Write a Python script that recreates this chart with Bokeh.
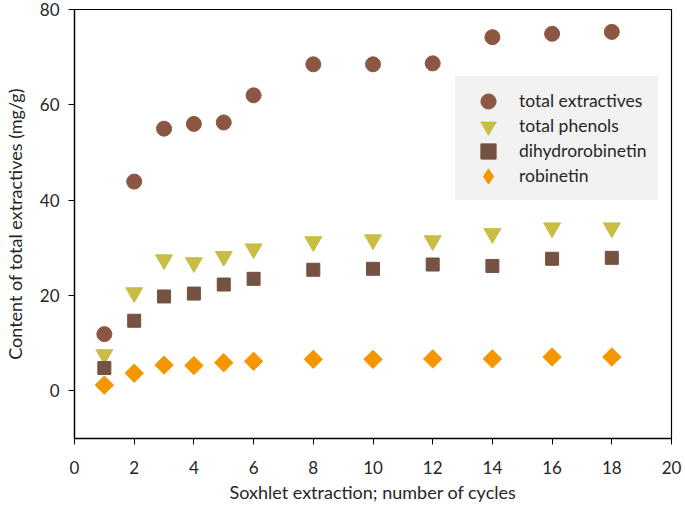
from bokeh.plotting import figure
from bokeh.models import Range1d, FixedTicker, Legend, LegendItem
from bokeh.embed import file_html
from bokeh.resources import INLINE
import math

cycles = [1, 2, 3, 4, 5, 6, 8, 10, 12, 14, 16, 18]
total_extractives = [11.9, 43.9, 55.0, 56.0, 56.3, 62.0, 68.5, 68.5, 68.7, 74.2, 74.9, 75.3]
total_phenols = [7.6, 20.6, 27.5, 26.9, 28.2, 29.8, 31.3, 31.7, 31.5, 33.0, 34.2, 34.2]
dihydrorobinetin = [4.8, 14.7, 19.8, 20.4, 22.3, 23.5, 25.4, 25.6, 26.5, 26.2, 27.7, 27.9]
robinetin = [1.2, 3.7, 5.4, 5.3, 5.9, 6.2, 6.6, 6.6, 6.7, 6.7, 7.1, 7.1]
series_names = ["total extractives", "total phenols", "dihydrorobinetin", "robinetin"]

x_ticks = [0, 2, 4, 6, 8, 10, 12, 14, 16, 18, 20]
y_ticks = [0, 20, 40, 60, 80]

FONT = "Lato"
TXT = "#262626"
NAN = float("nan")

p = figure(width=685, height=505, output_backend="svg", toolbar_location=None,
           x_range=Range1d(0, 20), y_range=Range1d(-10, 80),
           min_border_left=74, min_border_right=14, min_border_top=9, min_border_bottom=67)

p.xgrid.grid_line_color = None
p.ygrid.grid_line_color = None
p.outline_line_color = "black"
p.outline_line_width = 1.2
p.background_fill_color = "white"
p.border_fill_color = "white"

p.xaxis.ticker = FixedTicker(ticks=x_ticks)
p.yaxis.ticker = FixedTicker(ticks=y_ticks)
for ax in (p.xaxis[0], p.yaxis[0]):
    ax.axis_line_color = "black"
    ax.axis_line_width = 1.3
    ax.major_tick_line_color = "black"
    ax.major_tick_in = 0
    ax.major_tick_out = 6
    ax.minor_tick_line_color = None
    ax.major_label_text_font = FONT
    ax.major_label_text_font_size = "17px"
    ax.major_label_text_color = TXT
    ax.axis_label_text_font = FONT
    ax.axis_label_text_font_size = "18px"
    ax.axis_label_text_font_style = "normal"
    ax.axis_label_text_color = TXT

p.xaxis.axis_label = "Soxhlet extraction; number of cycles"
p.yaxis.axis_label = "Content of total extractives (mg/g)"
p.xaxis.major_label_standoff = 16
p.xaxis.axis_label_standoff = 4
p.yaxis.major_label_standoff = 9
p.yaxis.axis_label_standoff = 11

r1 = p.scatter(cycles, total_extractives, marker="circle", size=15,
               fill_color="#8C5742", line_color="#8C5742")
r2 = p.scatter(cycles, total_phenols, marker="inverted_triangle", size=17,
               fill_color="#C9BD45", line_color="#C9BD45")
r3 = p.scatter(cycles, dihydrorobinetin, marker="square", size=13,
               fill_color="#755242", line_color="#755242")
r4 = p.scatter(cycles, robinetin, marker="square", size=13, angle=math.pi / 4,
               fill_color="#F59600", line_color="#F59600")
# legend-only swatch for the diamond (legend glyphs ignore rotation)
r4_key = p.scatter([NAN], [NAN], marker="diamond", size=13,
                   fill_color="#F59600", line_color="#F59600")
# invisible placeholder used by the text/background legend
blank = p.scatter([NAN], [NAN], marker="circle", size=1, fill_alpha=0, line_alpha=0)

# background + labels
legend = Legend(items=[LegendItem(label=n, renderers=[blank]) for n in series_names],
                location=(381, 238))
legend.background_fill_color = "#F2F2F2"
legend.background_fill_alpha = 1
legend.border_line_color = "#F2F2F2"
legend.border_line_width = 12
legend.border_line_join = "miter"
legend.label_text_font = FONT
legend.label_text_font_size = "17.5px"
legend.label_text_color = TXT
legend.padding = 0
legend.margin = 0
legend.spacing = 0
legend.glyph_width = 50
legend.glyph_height = 25
legend.label_height = 25
legend.label_standoff = 2
p.add_layout(legend, "center")

# larger legend keys, one per row
row_offsets = [318, 293, 268, 243]
for r, yoff in zip([r1, r2, r3, r4_key], row_offsets):
    key = Legend(items=[LegendItem(label=" ", renderers=[r])], location=(395, yoff))
    key.background_fill_alpha = 0
    key.border_line_color = None
    key.padding = 0
    key.margin = 0
    key.spacing = 0
    key.glyph_width = 38
    key.glyph_height = 38
    key.label_height = 38
    key.label_standoff = 0
    key.label_text_font_size = "1px"
    key.label_text_alpha = 0
    p.add_layout(key, "center")

open("out.html", "w").write(file_html(p, INLINE))
